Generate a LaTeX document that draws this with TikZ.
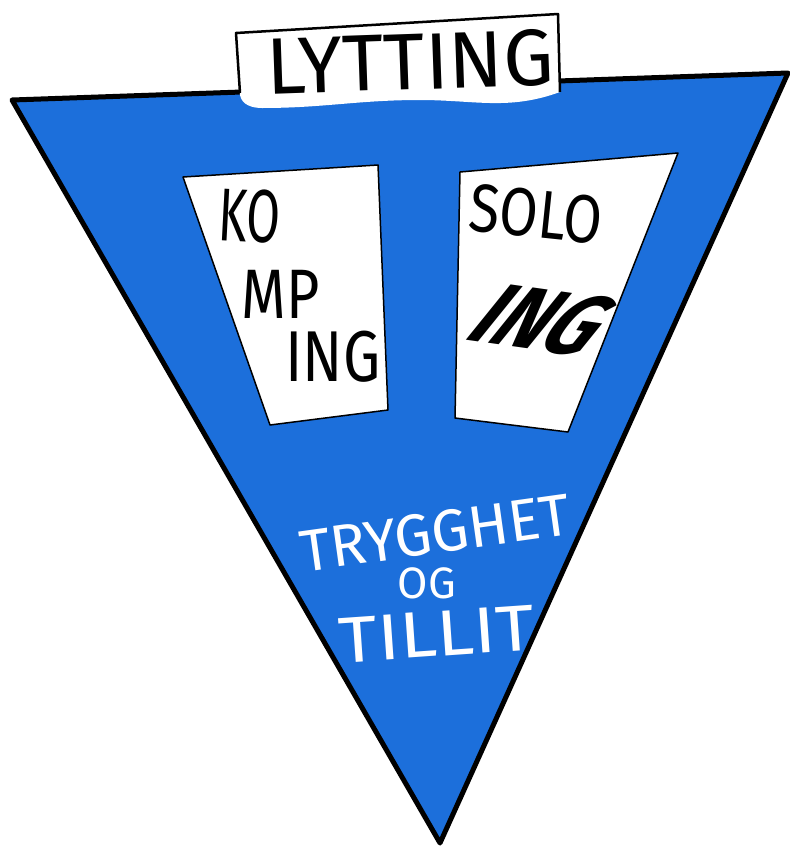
\documentclass[tikz,border=0pt]{standalone}
\usepackage{fontspec}
\setmainfont{Fira Sans}
\newfontfamily\narrowA{Fira Sans}[FakeStretch=0.65]
\newfontfamily\narrowB{Fira Sans}[FakeStretch=0.82]
\newfontfamily\slanted{Fira Sans}[FakeStretch=0.85, FakeSlant=0.6]
\newfontfamily\widened{Fira Sans}[FakeStretch=1.15]
\definecolor{sketchblue}{RGB}{28,111,219}
\tikzset{
  card/.style={fill=white, draw=black, line width=1.5pt, line join=round},
  ink/.style={text=black, inner sep=0pt},
  chalk/.style={text=white, inner sep=0pt},
}
\newcommand{\fs}[1]{\fontsize{#1}{#1}\selectfont}
\begin{document}
\begin{tikzpicture}[x=1pt,y=-1pt]
    \useasboundingbox (0,0) rectangle (790,847);
    % the big triangle
    \draw[fill=sketchblue, line width=5pt, line join=round] (12,100) -- (788,73) -- (440,843) -- cycle;
    % label sitting on the top edge
    \fill[white] (236,33) -- (558,14) -- (560,92) to[out=200,in=0] (420,100)
        to[out=180,in=0] (262,108) to[out=180,in=-80] (240,95) -- cycle;
    \draw[line width=2.5pt, line join=round] (240,93) -- (236,33) -- (558,14) -- (560,92);
    \node[ink, font=\fs{80}, rotate=2] (lytting) at (410,62) {LYTTING};
    % two cards
    \draw[card] (183,177) -- (378,165) -- (388,410) -- (270,425) -- cycle;
    \draw[card] (460,172) -- (678,153) -- (568,432) -- (455,418) -- cycle;
    \node[ink, font=\narrowA\fs{75}, rotate=-3] (ko) at (250,216) {KO};
    \node[ink, font=\narrowB\fs{70}] (mp) at (281,294) {MP};
    \node[ink, font=\narrowB\fs{72}] (ingl) at (333,357) {ING};
    \node[ink, font=\narrowB\fs{68}, rotate=-6] (solo) at (536,214) {SOLO};
    \node[ink, font=\slanted\bfseries\fs{88}, rotate=-8] (ingr) at (525,318) {ING};
    % bottom text
    \node[chalk, font=\fs{59}, rotate=8] (trygghet) at (435,533) {TRYGGHET};
    \node[chalk, font=\fs{44}] (og) at (427,583) {OG};
    \node[chalk, font=\widened\fs{65}, rotate=4] (tillit) at (437,634) {TILLIT};
\end{tikzpicture}
\end{document}
